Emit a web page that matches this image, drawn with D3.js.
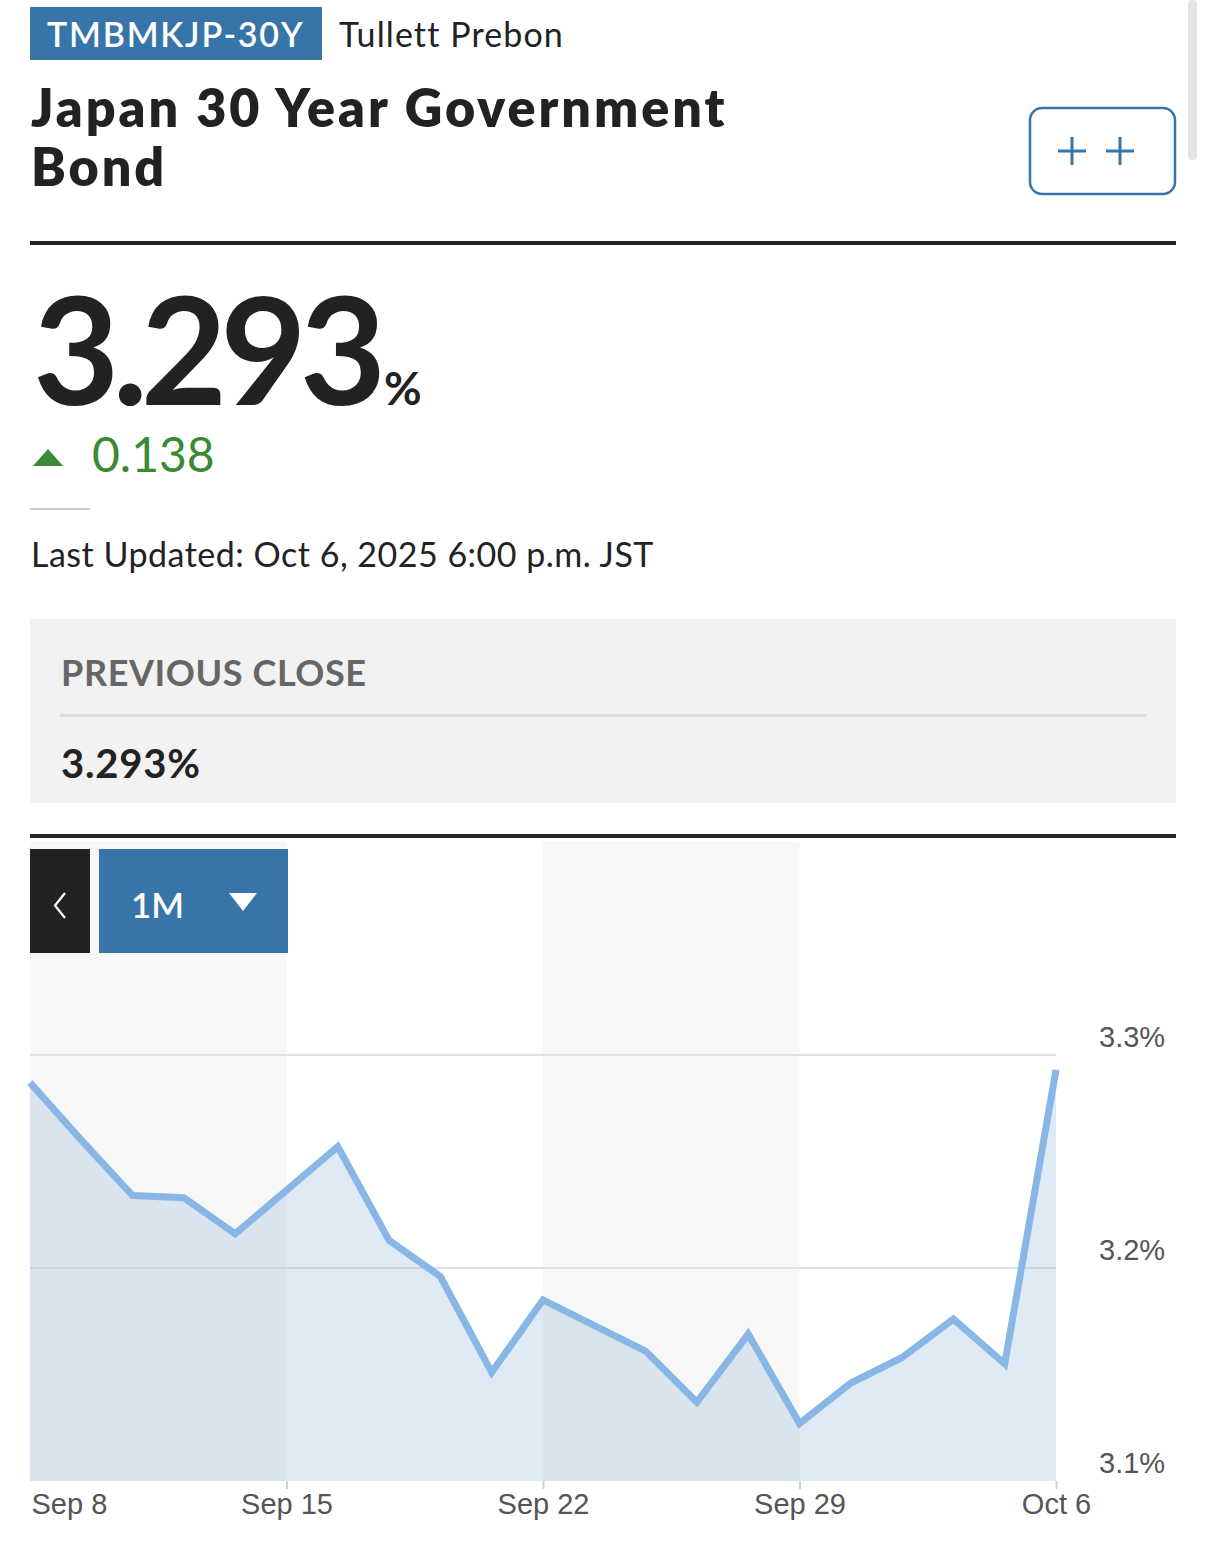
<!DOCTYPE html>
<html>
<head>
<meta charset="utf-8">
<script src="https://cdn.jsdelivr.net/npm/d3@7"></script>
<style>
  html, body { margin: 0; padding: 0; background: #fff; }
  svg { display: block; }
</style>
</head>
<body>
<svg id="chart" width="1206" height="1564"></svg>
<script>
// ---- Data ----
const symbol = "TMBMKJP-30Y";
const source = "Tullett Prebon";
const titleLines = ["Japan 30 Year Government", "Bond"];
const lastValue = "3.293";
const change = "0.138";
const lastUpdated = "Last Updated: Oct 6, 2025 6:00 p.m. JST";
const prevCloseLabel = "PREVIOUS CLOSE";
const prevCloseValue = "3.293%";
const rangeLabel = "1M";

const dates = ["2025-09-08","2025-09-09","2025-09-10","2025-09-11","2025-09-12",
               "2025-09-16","2025-09-17","2025-09-18","2025-09-19",
               "2025-09-22","2025-09-24","2025-09-25","2025-09-26",
               "2025-09-29","2025-09-30","2025-10-01","2025-10-02","2025-10-03",
               "2025-10-06"];
const yields = [3.287, 3.260, 3.234, 3.233, 3.216,
                3.257, 3.213, 3.196, 3.151,
                3.185, 3.161, 3.137, 3.169,
                3.127, 3.146, 3.158, 3.176, 3.155,
                3.293];
const xTickDates = ["2025-09-08","2025-09-15","2025-09-22","2025-09-29","2025-10-06"];
const xTickLabels = ["Sep 8","Sep 15","Sep 22","Sep 29","Oct 6"];
const yTicks = [3.1, 3.2, 3.3];
const yDomain = [3.1, 3.4];

// ---- Helpers ----
const parse = d3.utcParse("%Y-%m-%d");
const start = parse(dates[0]);
function bizIndex(d) {
  const weeks = d3.utcMonday.count(start, d);
  const dow = d.getUTCDay(); // 1..5
  return weeks * 5 + (dow - 1);
}
const data = dates.map((s, i) => ({ date: parse(s), value: yields[i] }));
data.forEach(d => d.i = bizIndex(d.date));

const svg = d3.select("#chart");
const blue = "#3774a8";
const ink = "#222222";

// ---- Header ----
svg.append("rect").attr("x", 30).attr("y", 7).attr("width", 292).attr("height", 53).attr("fill", blue);
svg.append("text").attr("x", 47).attr("y", 47).attr("font-family", "Lato").attr("font-weight", 600)
  .attr("font-size", 34).attr("letter-spacing", 1.8).attr("fill", "#fff").text(symbol);
svg.append("text").attr("x", 339).attr("y", 47).attr("font-family", "Lato").attr("font-weight", 400)
  .attr("font-size", 34).attr("letter-spacing", 1.1).attr("fill", ink).text(source);

titleLines.forEach((t, k) => {
  svg.append("text").attr("x", 31).attr("y", 127 + k * 59).attr("font-family", "Lato").attr("font-weight", 800)
    .attr("font-size", 52).attr("letter-spacing", 3).attr("fill", ink).text(t);
});

// compare button
svg.append("rect").attr("x", 1030).attr("y", 108).attr("width", 145).attr("height", 86).attr("rx", 12)
  .attr("fill", "#fff").attr("stroke", blue).attr("stroke-width", 2.5);
[1072, 1120].forEach(cx => {
  svg.append("path").attr("d", `M${cx-14},151H${cx+14}M${cx},137V165`)
    .attr("stroke", blue).attr("stroke-width", 3).attr("fill", "none");
});
// scrollbar
svg.append("rect").attr("x", 1188).attr("y", 0).attr("width", 9).attr("height", 160).attr("rx", 4).attr("fill", "#e4e4e4");

// heavy rule
svg.append("rect").attr("x", 30).attr("y", 241).attr("width", 1146).attr("height", 4).attr("fill", ink);

// big value
const big = svg.append("text").attr("x", 33).attr("y", 405).attr("font-family", "Lato").attr("font-weight", 700)
  .attr("font-size", 149).attr("letter-spacing", -7).attr("fill", ink);
big.append("tspan").text(lastValue);
big.append("tspan").attr("font-size", 46).attr("dx", 5).attr("letter-spacing", 0).text("%");

// change
svg.append("path").attr("d", "M33,466L48,449L63,466Z").attr("fill", "#3a8a35");
svg.append("text").attr("x", 92).attr("y", 472).attr("font-family", "Lato").attr("font-weight", 400)
  .attr("font-size", 48).attr("fill", "#3a8a35").text(change);

svg.append("rect").attr("x", 30).attr("y", 508).attr("width", 60).attr("height", 2).attr("fill", "#cccccc");

svg.append("text").attr("x", 31).attr("y", 567).attr("font-family", "Lato").attr("font-weight", 400)
  .attr("font-size", 34).attr("letter-spacing", 0.5).attr("fill", ink).text(lastUpdated);

// previous close box
svg.append("rect").attr("x", 30).attr("y", 619).attr("width", 1146).attr("height", 184).attr("fill", "#f2f2f2");
svg.append("text").attr("x", 61).attr("y", 686).attr("font-family", "Lato").attr("font-weight", 700)
  .attr("font-size", 36).attr("letter-spacing", 0.6).attr("fill", "#666").text(prevCloseLabel);
svg.append("rect").attr("x", 60).attr("y", 714).attr("width", 1086).attr("height", 3).attr("fill", "#dddddd");
svg.append("text").attr("x", 61).attr("y", 778).attr("font-family", "Lato").attr("font-weight", 700)
  .attr("font-size", 40).attr("letter-spacing", 0.8).attr("fill", ink).text(prevCloseValue);

// chart top rule
svg.append("rect").attr("x", 30).attr("y", 834).attr("width", 1146).attr("height", 4).attr("fill", "#262a30");

// ---- Chart ----
const x = d3.scaleLinear().domain([0, 20]).range([30, 1056]);
const y = d3.scaleLinear().domain(yDomain).range([1481, 842]);

const tickIdx = xTickDates.map(s => bizIndex(parse(s)));

// alternating weekly bands
const g = svg.append("g");
for (let k = 0; k < tickIdx.length - 1; k++) {
  if (k % 2 === 0) {
    g.append("rect").attr("x", x(tickIdx[k])).attr("y", y(yDomain[1]))
      .attr("width", x(tickIdx[k + 1]) - x(tickIdx[k]))
      .attr("height", y(yDomain[0]) - y(yDomain[1]))
      .attr("fill", "#f7f7f7");
  }
}

// gridlines
g.selectAll(".grid").data(yTicks.filter(v => v > yDomain[0])).join("line")
  .attr("x1", x(0)).attr("x2", x(20))
  .attr("y1", d => y(d)).attr("y2", d => y(d))
  .attr("stroke", "#e0e0e0").attr("stroke-width", 2);

// area
const area = d3.area().x(d => x(d.i)).y0(y(yDomain[0])).y1(d => y(d.value));
g.append("path").datum(data).attr("d", area).attr("fill", "rgba(140,180,220,0.28)");

// line
const line = d3.line().x(d => x(d.i)).y(d => y(d.value));
g.append("path").datum(data).attr("d", line).attr("fill", "none")
  .attr("stroke", "#88b7e5").attr("stroke-width", 7).attr("stroke-linejoin", "miter");

// x axis
const xAxis = d3.axisBottom(x).tickValues(tickIdx).tickFormat((d, i) => xTickLabels[i])
  .tickSize(8).tickSizeOuter(0).tickPadding(4);
const xg = svg.append("g").attr("transform", `translate(0,${y(yDomain[0])})`).call(xAxis);
xg.select(".domain").remove();
xg.selectAll(".tick line").attr("stroke", "#c6d2de").attr("stroke-width", 2);
xg.selectAll(".tick text").attr("font-family", "Liberation Sans, Arial, sans-serif")
  .attr("font-size", 29).attr("fill", "#555").attr("dy", "0.71em");
xg.selectAll(".tick").filter((d, i) => i === 0).select("line").remove();
xg.selectAll(".tick").filter((d, i) => i === 0).select("text").attr("text-anchor", "start").attr("x", 1);

// y axis
const yAxis = d3.axisRight(y).tickValues(yTicks).tickFormat(d => d3.format(".1f")(d) + "%")
  .tickSize(0).tickPadding(43);
const yg = svg.append("g").attr("transform", `translate(${x(20)},0)`).call(yAxis);
yg.select(".domain").remove();
yg.selectAll(".tick text").attr("font-family", "Liberation Sans, Arial, sans-serif")
  .attr("font-size", 29).attr("fill", "#555").attr("dy", "-0.3em");

// ---- Range controls ----
svg.append("rect").attr("x", 30).attr("y", 849).attr("width", 60).attr("height", 104).attr("fill", ink);
svg.append("path").attr("d", "M65,893L55,905.5L65,918").attr("fill", "none").attr("stroke", "#fff").attr("stroke-width", 2.2);
svg.append("rect").attr("x", 99).attr("y", 849).attr("width", 189).attr("height", 104).attr("fill", blue);
svg.append("text").attr("x", 131).attr("y", 918).attr("font-family", "Lato").attr("font-weight", 600)
  .attr("font-size", 35).attr("fill", "#fff").text(rangeLabel);
svg.append("path").attr("d", "M229,893H257L243,911Z").attr("fill", "#fff");
</script>
</body>
</html>
